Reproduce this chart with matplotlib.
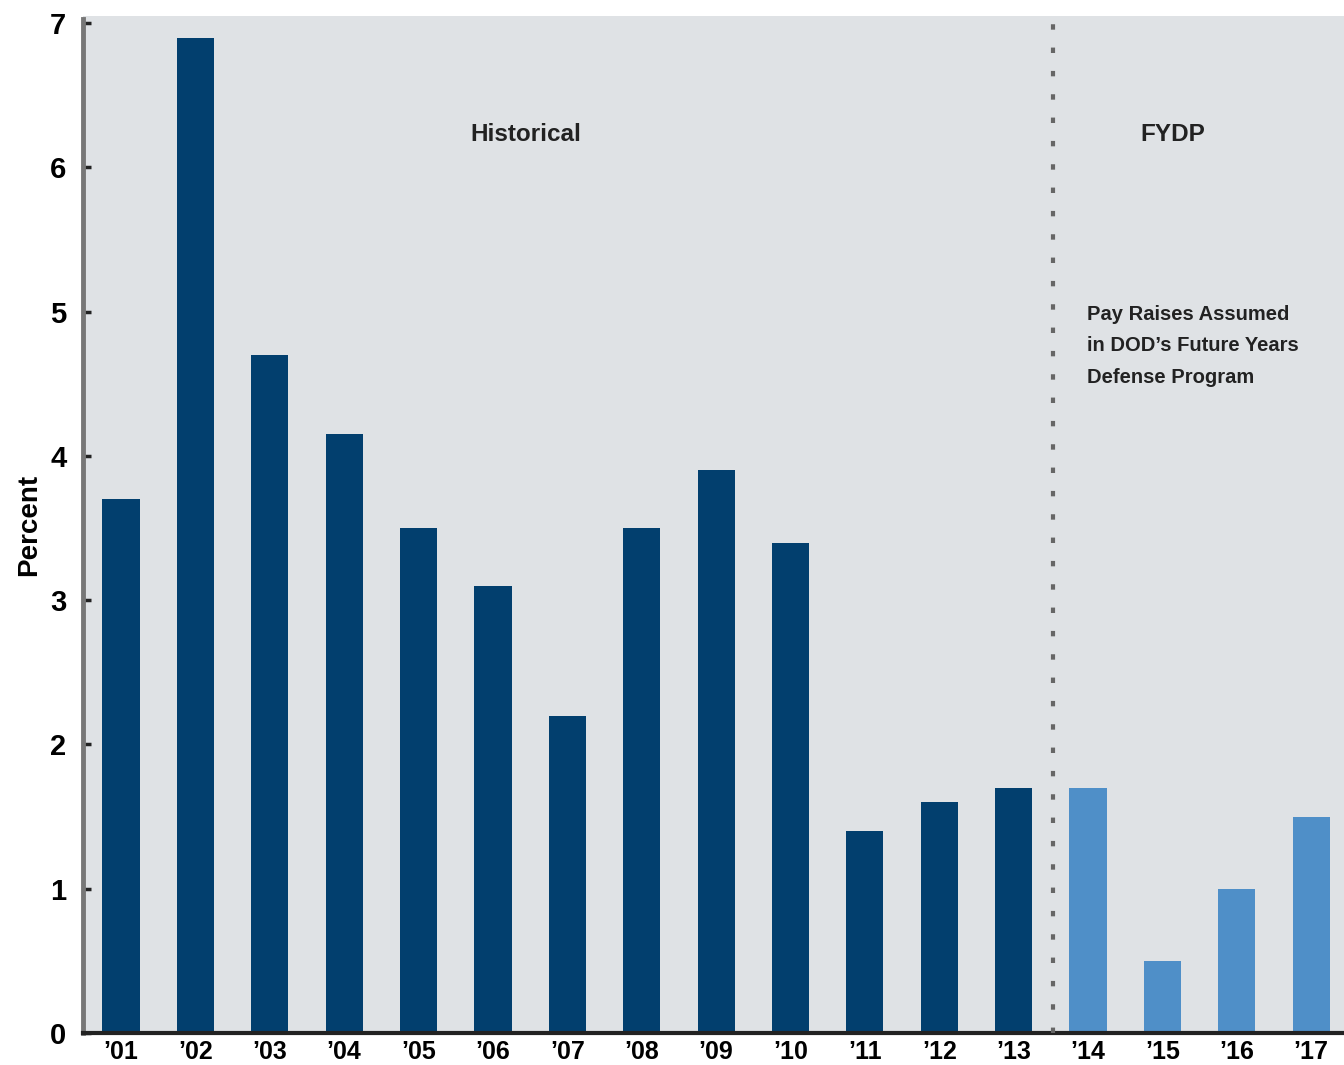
import matplotlib
matplotlib.use("Agg")
import matplotlib.pyplot as plt
import numpy as np

years = ["’01", "’02", "’03", "’04", "’05", "’06", "’07", "’08", "’09",
         "’10", "’11", "’12", "’13", "’14", "’15", "’16", "’17"]
historical = [3.7, 6.9, 4.7, 4.15, 3.5, 3.1, 2.2, 3.5, 3.9, 3.4, 1.4, 1.6, 1.7]
fydp = [1.7, 0.5, 1.0, 1.5]
yticks = [0, 1, 2, 3, 4, 5, 6, 7]

FONT = ['Liberation Sans Narrow', 'Liberation Sans', 'DejaVu Sans']
plt.rcParams['font.family'] = FONT

DARK = "#023f6e"
LIGHT = "#4f8fc8"
BG = "#dfe2e5"

fig = plt.figure(figsize=(13.44, 10.65), dpi=100)
ax = fig.add_axes([83/1344, 32/1065, 1 - 83/1344, 1017/1065])
ax.set_facecolor(BG)

x_hist = np.arange(len(historical))
x_fydp = np.arange(len(historical), len(historical) + len(fydp))
ax.bar(x_hist, historical, width=0.5, color=DARK, zorder=2)
ax.bar(x_fydp, fydp, width=0.5, color=LIGHT, zorder=2)

ax.set_xlim(-0.51, 16.44)
ax.set_ylim(0, 7.05)

ax.axvline(12.53, color="#666666", lw=3, ls=(0, (1.3, 4.3)), zorder=3)

ax.set_xticks(np.arange(len(years)))
ax.set_xticklabels(years, fontsize=18, fontweight='bold')
ax.set_yticks(yticks)
ax.set_yticklabels([str(t) for t in yticks], fontsize=21, fontweight='bold')
ax.tick_params(axis='x', length=0, pad=5)
ax.tick_params(axis='y', direction='in', length=6, width=2.5, color="#222222", pad=12)

for s in ['top', 'right']:
    ax.spines[s].set_visible(False)
ax.spines['left'].set_color("#777777")
ax.spines['left'].set_linewidth(3.5)
ax.spines['bottom'].set_color("#222222")
ax.spines['bottom'].set_linewidth(3)
ax.spines['left'].set_bounds(0, 7.03)

ax.set_ylabel("Percent", fontsize=20, fontweight='bold', labelpad=6)

ax.text(5.44, 6.23, "Historical", ha='center', va='center', fontsize=17.5, fontweight='bold', color="#222222")
ax.text(14.14, 6.23, "FYDP", ha='center', va='center', fontsize=17.5, fontweight='bold', color="#222222")
ax.text(12.98, 5.05, "Pay Raises Assumed\nin DOD’s Future Years\nDefense Program",
        ha='left', va='top', fontsize=14.5, fontweight='bold', color="#222222", linespacing=1.85)

fig.savefig("out.png", dpi=100)
